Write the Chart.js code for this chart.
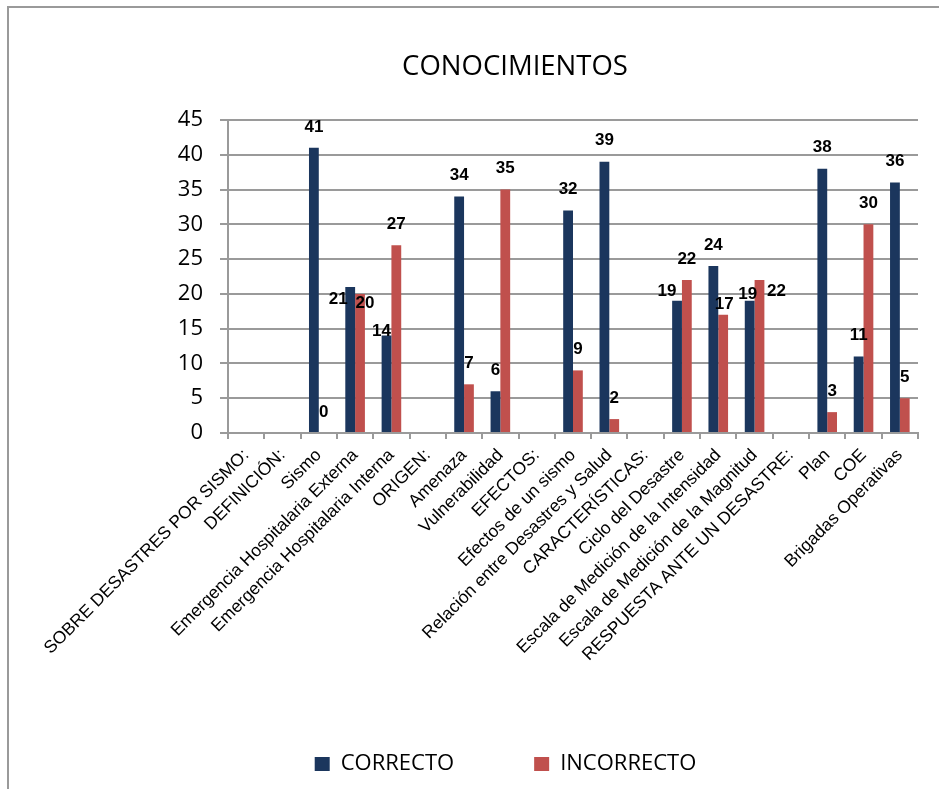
<!DOCTYPE html>
<html><head><meta charset="utf-8">
<script src="https://cdn.jsdelivr.net/npm/chart.js@4.4.0/dist/chart.umd.min.js"></script>
<style>
html,body{margin:0;padding:0;background:#fff;}
#wrap{position:relative;width:939px;height:789px;overflow:hidden;}
#frame{position:absolute;left:7px;top:6px;width:960px;height:820px;border-top:2px solid #9a9a9a;border-left:2px solid #9a9a9a;pointer-events:none;}
canvas{position:absolute;left:0;top:0;}
</style></head>
<body><div id="wrap"><canvas id="c" width="939" height="789"></canvas><div id="frame"></div></div>
<script>
const categories = [
  "SOBRE DESASTRES POR SISMO:", "DEFINICIÓN:", "Sismo",
  "Emergencia Hospitalaria Externa", "Emergencia Hospitalaria Interna",
  "ORIGEN:", "Amenaza", "Vulnerabilidad", "EFECTOS:", "Efectos de un sismo",
  "Relación entre Desastres y Salud", "CARACTERÍSTICAS:", "Ciclo del Desastre",
  "Escala de Medición de la Intensidad", "Escala de Medición de la Magnitud",
  "RESPUESTA ANTE UN DESASTRE:", "Plan", "COE", "Brigadas Operativas"
];
const correcto   = [null, null, 41, 21, 14, null, 34, 6, null, 32, 39, null, 19, 24, 19, null, 38, 11, 36];
const incorrecto = [null, null, 0, 20, 27, null, 7, 35, null, 9, 2, null, 22, 17, 22, null, 3, 30, 5];
const seriesNames = ["CORRECTO", "INCORRECTO"];
const yTickValues = [0, 5, 10, 15, 20, 25, 30, 35, 40, 45];
const chartTitle = "CONOCIMIENTOS";

const BLUE = '#1B365D', RED = '#C0504D', GRID = '#9a9a9a';

// label nudges (dataset:index -> [dx, dy]) to mimic manually placed labels
const labelNudge = {
  '0:3': [-12, 33], '1:3': [5, 30], '0:4': [-5, 17],
  '0:12': [-10, 11], '1:13': [1, 11], '0:14': [-2, 14], '1:14': [17, 32]
};

const valueLabels = {
  id: 'valueLabels',
  afterDatasetsDraw(chart) {
    const ctx = chart.ctx;
    ctx.save();
    ctx.font = 'bold 17px "Liberation Sans Narrow", "Arial Narrow", "Liberation Sans", sans-serif';
    ctx.fillStyle = '#000';
    ctx.textAlign = 'center';
    ctx.textBaseline = 'middle';
    chart.data.datasets.forEach((ds, di) => {
      const meta = chart.getDatasetMeta(di);
      meta.data.forEach((el, i) => {
        const v = ds.data[i];
        if (v === null || v === undefined) return;
        const n = labelNudge[di + ':' + i] || [0, 0];
        ctx.fillText(String(v), el.x + n[0], el.y - 21 + n[1]);
      });
    });
    ctx.restore();
  }
};

// title drawn at the position of the original (offset from canvas centre)
const titleText = {
  id: 'titleText',
  afterDraw(chart) {
    const ctx = chart.ctx;
    ctx.save();
    ctx.font = '27.5px "Open Sans", sans-serif';
    ctx.fillStyle = '#000';
    ctx.textAlign = 'center';
    ctx.textBaseline = 'alphabetic';
    ctx.fillText(chart.options.plugins.title.text, 515, 75);
    ctx.restore();
  }
};

const LEG_PAD = 80;
const LEG_FONT = 22;
const LAYOUT_BOTTOM = 4;
const PAD_LEFT = 93;

new Chart(document.getElementById('c'), {
  type: 'bar',
  data: {
    labels: categories,
    datasets: [
      { label: seriesNames[0], data: correcto, backgroundColor: BLUE, borderWidth: 0,
        categoryPercentage: 0.54, barPercentage: 1 },
      { label: seriesNames[1], data: incorrecto, backgroundColor: RED, borderWidth: 0,
        categoryPercentage: 0.54, barPercentage: 1 }
    ]
  },
  options: {
    responsive: false,
    animation: false,
    devicePixelRatio: 1,
    layout: { padding: { left: PAD_LEFT, right: 21, top: 120, bottom: LAYOUT_BOTTOM } },
    plugins: {
      title: { display: false, text: chartTitle },
      legend: {
        position: 'bottom',
        labels: {
          color: '#000', boxWidth: 15, boxHeight: 14, padding: LEG_PAD,
          font: { family: '"Open Sans", sans-serif', size: LEG_FONT }
        }
      },
      tooltip: { enabled: false }
    },
    scales: {
      x: {
        offset: true,
        grid: { display: true, drawOnChartArea: false, offset: true, tickLength: 6, color: GRID, lineWidth: 2 },
        border: { display: true, color: GRID, width: 2 },
        ticks: {
          autoSkip: false, minRotation: 45, maxRotation: 45, padding: 6, color: '#000',
          font: { family: '"Liberation Sans", Arial, sans-serif', size: 17.5 }
        },
        afterFit(scale) { scale.height = 789 - LAYOUT_BOTTOM - (LEG_FONT + LEG_PAD + 10) - 433; }
      },
      y: {
        min: 0, max: 45,
        afterBuildTicks(scale) { scale.ticks = yTickValues.map(v => ({ value: v })); },
        grid: { color: GRID, lineWidth: 2, tickLength: 8 },
        border: { display: true, color: GRID, width: 2 },
        ticks: {
          padding: 17, color: '#000',
          font: { family: '"Open Sans", sans-serif', size: 22 }
        },
        afterFit(scale) { scale.width = 228 - PAD_LEFT; }
      }
    }
  },
  plugins: [valueLabels, titleText]
});
</script>
</body></html>
